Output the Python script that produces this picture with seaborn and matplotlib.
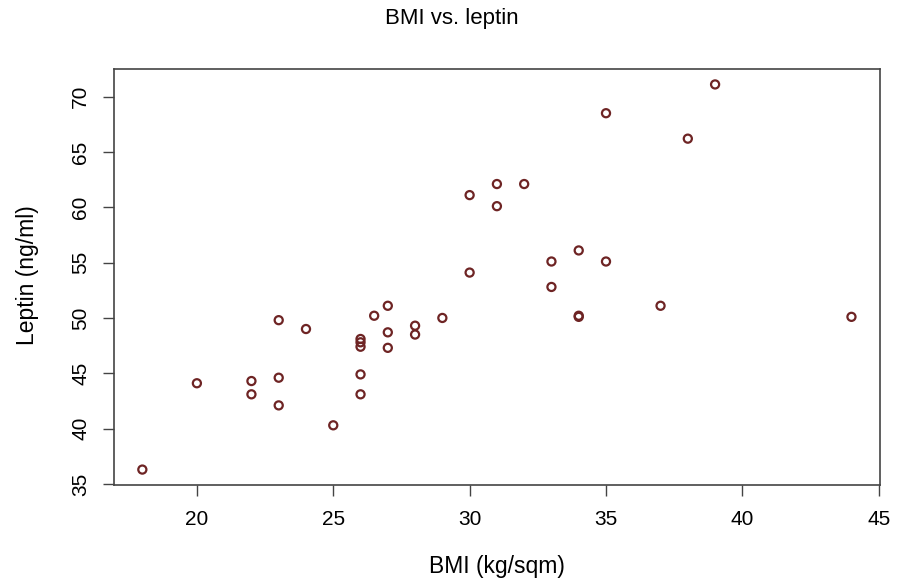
import numpy as np
import pandas as pd
import matplotlib
matplotlib.use("Agg")
import matplotlib.pyplot as plt
import seaborn as sns

# BMI vs leptin values
bmi = [18, 20, 22, 22, 23, 23, 23, 24, 25,
       26, 26, 26, 26, 26, 26.5, 27, 27, 27, 28, 28, 29,
       30, 30, 31, 31, 32, 33, 33, 34, 34, 34, 35, 35, 37, 38, 39, 44]
leptin = [36.3, 44.1, 44.3, 43.1, 49.8, 44.6, 42.1, 49.0, 40.3,
          48.1, 47.8, 47.4, 44.9, 43.1, 50.2, 51.1, 48.7, 47.3, 49.3, 48.5, 50.0,
          61.1, 54.1, 62.1, 60.1, 62.1, 55.1, 52.8, 56.1, 50.2, 50.1, 68.5, 55.1, 51.1, 66.2, 71.1, 50.1]

x_ticks = [20, 25, 30, 35, 40, 45]
y_ticks = [35, 40, 45, 50, 55, 60, 65, 70]

df = pd.DataFrame({"bmi": bmi, "leptin": leptin})

sns.set_style("white")
plt.rcParams["font.family"] = ["Liberation Sans", "DejaVu Sans"]

fig = plt.figure(figsize=(9.01, 5.82), dpi=100)
ax = fig.add_axes([0.1265, 0.1667, 0.85, 0.7147])

sns.scatterplot(data=df, x="bmi", y="leptin", ax=ax, marker="o",
                facecolor="none", edgecolor="#6e2424", linewidth=1.6, s=34)

# R-style 4% padding around data range
xr = max(bmi) - min(bmi)
yr = max(leptin) - min(leptin)
ax.set_xlim(min(bmi) - 0.04 * xr, max(bmi) + 0.04 * xr)
ax.set_ylim(min(leptin) - 0.04 * yr, max(leptin) + 0.04 * yr)

ax.set_xticks(x_ticks)
ax.set_yticks(y_ticks)
ax.set_yticklabels([str(v) for v in y_ticks], rotation=90, va="center")
ax.tick_params(axis="both", direction="out", length=8, width=1, color="#444444",
               labelsize=15, labelcolor="black", bottom=True, left=True)
ax.tick_params(axis="x", pad=10)
ax.tick_params(axis="y", pad=9)

for sp in ax.spines.values():
    sp.set_color("#444444")
    sp.set_linewidth(1.2)

ax.set_xlabel("")
ax.set_ylabel("")
fig.text(0.501, 0.969, "BMI vs. leptin", ha="center", va="center", fontsize=16, color="black")
fig.text(0.552, 0.027, "BMI (kg/sqm)", ha="center", va="center", fontsize=16.5, color="black")
fig.text(0.031, 0.527, "Leptin (ng/ml)", ha="center", va="center", rotation=90,
         fontsize=16.5, color="black")

fig.savefig("out.png", dpi=100)
